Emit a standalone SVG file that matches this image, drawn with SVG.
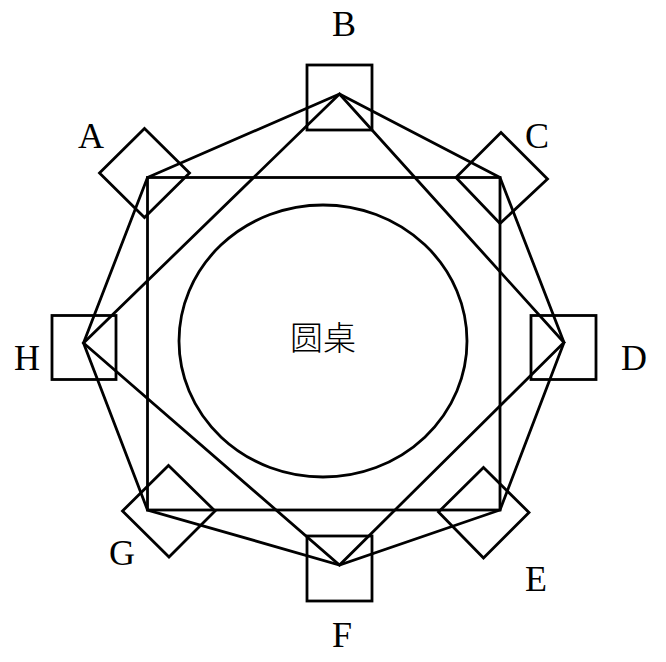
<svg xmlns="http://www.w3.org/2000/svg" width="666" height="662" viewBox="0 0 666 662">
<style>
.s{fill:none;stroke:#000;stroke-width:2.8;stroke-linejoin:miter}
.seat{fill:none;stroke:#000;stroke-width:2.8}
.lb{font-family:"Liberation Serif","Times New Roman",serif;font-size:36px;fill:#000;text-anchor:middle}
.cn{font-family:"Noto Sans CJK SC","Noto Sans CJK JP",sans-serif;font-size:33px;font-weight:300;fill:#000;text-anchor:middle}
</style>
<rect width="666" height="662" fill="#fff"/>
<g id="connectors">
<rect class="s" x="147.5" y="177.5" width="352.5" height="332.5"/>
<polygon class="s" points="339.5,94 564,342.5 339.5,565 83.5,343"/>
<polygon class="s" points="339.5,94 500,177.5 564,342.5 500,510 339.5,565 147.5,510 83.5,343 147.5,177.5"/>
</g>
<g id="table">
<ellipse class="s" cx="323" cy="341" rx="144" ry="136"/>
<text class="cn" x="323" y="350">圆桌</text>
</g>
<g id="seatA">
<polygon class="seat" points="144.5,128.5 189.5,173 144.5,217.5 99.5,173"/>
<text class="lb" x="91" y="148">A</text>
</g>
<g id="seatB">
<rect class="seat" x="307" y="65" width="65" height="65"/>
<text class="lb" x="344" y="36">B</text>
</g>
<g id="seatC">
<polygon class="seat" points="501,132.5 547.5,179 500,223.5 456,177.5"/>
<text class="lb" x="537" y="148">C</text>
</g>
<g id="seatD">
<rect class="seat" x="531" y="315.5" width="65" height="64"/>
<text class="lb" x="634" y="370">D</text>
</g>
<g id="seatE">
<polygon class="seat" points="483.5,467.5 529,512.5 483.5,558 438.5,512"/>
<text class="lb" x="536" y="591">E</text>
</g>
<g id="seatF">
<rect class="seat" x="307" y="536" width="65" height="65"/>
<text class="lb" x="342" y="647">F</text>
</g>
<g id="seatG">
<polygon class="seat" points="168.5,465.5 215,511 169,557 122.5,511"/>
<text class="lb" x="122" y="565">G</text>
</g>
<g id="seatH">
<rect class="seat" x="52" y="315.5" width="64" height="64"/>
<text class="lb" x="27" y="370">H</text>
</g>
</svg>
